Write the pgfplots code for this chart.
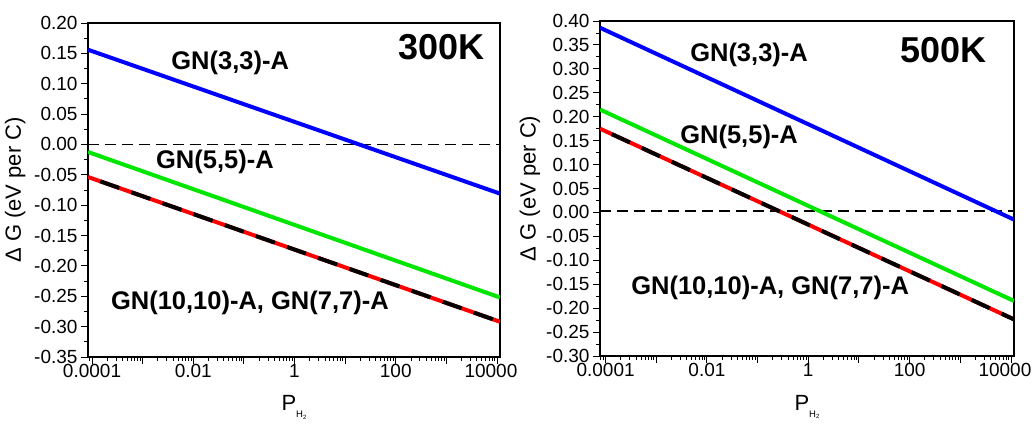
\documentclass[border=0pt]{standalone}
\usepackage{pgfplots}
\pgfplotsset{compat=1.18}
\usepackage{fontspec}
\setmainfont{Liberation Sans}
\definecolor{cblue}{RGB}{0,0,255}
\definecolor{cgreen}{RGB}{0,230,0}
\definecolor{cred}{RGB}{255,0,0}
\newcommand{\PHtwo}{P\raisebox{-0.6ex}{\fontsize{9.5}{9.5}\selectfont H\raisebox{-0.35ex}{\fontsize{6}{6}\selectfont 2}}}
\pgfplotsset{
  panel/.style={
    scale only axis,
    xtick={1e-4,1e-3,1e-2,1e-1,1,1e1,1e2,1e3,1e4},
    xticklabels={0.0001,,0.01,,1,,100,,10000\hspace*{12pt}},
    minor xtick={8e-5,9e-5,
      2e-4,3e-4,4e-4,5e-4,6e-4,7e-4,8e-4,9e-4,
      2e-3,3e-3,4e-3,5e-3,6e-3,7e-3,8e-3,9e-3,
      2e-2,3e-2,4e-2,5e-2,6e-2,7e-2,8e-2,9e-2,
      2e-1,3e-1,4e-1,5e-1,6e-1,7e-1,8e-1,9e-1,
      2,3,4,5,6,7,8,9,
      20,30,40,50,60,70,80,90,
      200,300,400,500,600,700,800,900,
      2000,3000,4000,5000,6000,7000,8000,9000},
    tick align=outside, tick pos=left,
    major tick length=7pt, minor tick length=4pt,
    axis line style={line width=1.2pt},
    every tick/.style={line width=0.9pt, black},
    ticklabel style={font=\fontsize{19}{19}\selectfont},
    xticklabel style={yshift=3pt},
    /pgf/number format/assume math mode=true,
    yticklabel style={/pgf/number format/fixed, /pgf/number format/fixed zerofill, /pgf/number format/precision=2},
    ytick distance=0.05, minor y tick num=1,
    ylabel={Δ G (eV per C)},
    xlabel={\PHtwo},
    label style={font=\fontsize{22}{22}\selectfont},
    xlabel style={at={(axis description cs:0.5,-0.152)}, anchor=center},
  },
}
\tikzset{
  lbl/.style={font=\bfseries\fontsize{25.5}{25.5}\selectfont},
  big/.style={font=\bfseries\fontsize{36}{36}\selectfont, anchor=east},
}
\begin{document}
\begin{tikzpicture}
\useasboundingbox (0pt,0pt) rectangle (1032pt,425pt);
% 300 K
\begin{axis}[xmode=log, log basis x=10, panel, at={(88pt,68pt)}, anchor=south west, width=412pt, height=334pt,
  xmin=8.32e-5, xmax=11482, ymin=-0.35, ymax=0.20,
  ylabel style={at={(axis description cs:-0.177,0.5)}, anchor=center}]
\addplot[black, line width=1.8pt, dash pattern=on 11pt off 6pt] coordinates {(8.32e-5,0) (11482,0)};
\addplot[cblue, line width=4pt] coordinates {(8.32e-5,0.156) (11482,-0.081)};
\addplot[cgreen, line width=4pt] coordinates {(8.32e-5,-0.0124) (11482,-0.252)};
\addplot[cred, line width=4pt] coordinates {(8.32e-5,-0.0536) (11482,-0.292)};
\addplot[black, line width=4pt, dash pattern=on 20pt off 13pt, dash phase=20pt] coordinates {(8.32e-5,-0.0536) (11482,-0.292)};
\node[lbl] at (rel axis cs:0.345,0.880) {GN(3,3)-A};
\node[big] at (rel axis cs:0.971,0.928) {300K};
\node[lbl] at (rel axis cs:0.308,0.584) {GN(5,5)-A};
\node[lbl] at (rel axis cs:0.393,0.162) {GN(10,10)-A, GN(7,7)-A};
\end{axis}
% 500 K
\begin{axis}[xmode=log, log basis x=10, panel, at={(600pt,69pt)}, anchor=south west, width=414pt, height=335pt,
  xmin=7.76e-5, xmax=11482, ymin=-0.30, ymax=0.40,
  ylabel style={at={(axis description cs:-0.169,0.5)}, anchor=center}]
\addplot[black, line width=1.8pt, dash pattern=on 11pt off 6pt] coordinates {(7.76e-5,0.003) (11482,0.003)};
\addplot[cblue, line width=4pt] coordinates {(7.76e-5,0.386) (11482,-0.015)};
\addplot[cgreen, line width=4pt] coordinates {(7.76e-5,0.215) (11482,-0.185)};
\addplot[cred, line width=4pt] coordinates {(7.76e-5,0.175) (11482,-0.2235)};
\addplot[black, line width=4pt, dash pattern=on 20pt off 13pt, dash phase=20pt] coordinates {(7.76e-5,0.175) (11482,-0.2235)};
\node[lbl] at (rel axis cs:0.360,0.899) {GN(3,3)-A};
\node[big] at (rel axis cs:0.942,0.913) {500K};
\node[lbl] at (rel axis cs:0.336,0.654) {GN(5,5)-A};
\node[lbl] at (rel axis cs:0.411,0.203) {GN(10,10)-A, GN(7,7)-A};
\end{axis}
\end{tikzpicture}
\end{document}
